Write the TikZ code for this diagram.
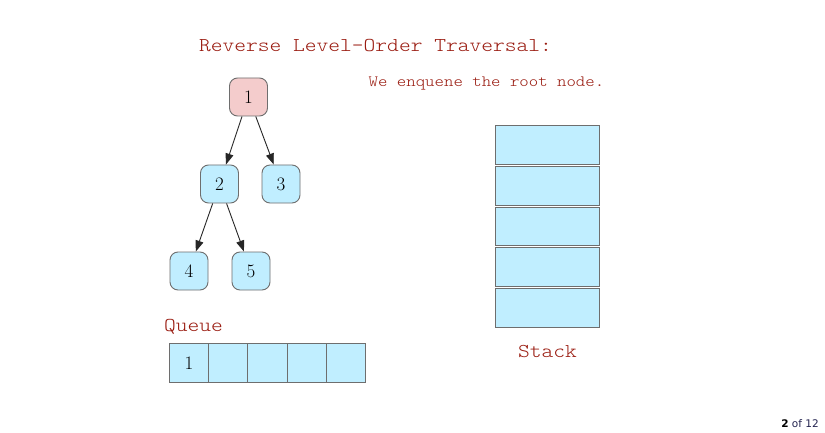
\documentclass[tikz,border=0pt]{standalone}
\usepackage{fontspec}
\newfontfamily\monofnt[FakeStretch=1.143]{lmmonolt10-regular.otf}
\newfontfamily\pgsans{DejaVu Sans}
\usetikzlibrary{arrows.meta}
\definecolor{cellblue}{HTML}{C0EEFF}
\definecolor{rootpink}{HTML}{F4CCCC}
\definecolor{bordergray}{HTML}{6E6E6E}
\definecolor{txtred}{HTML}{9A1B10}
\definecolor{pagenavy}{HTML}{23234F}
\tikzset{
  treenode/.style={draw=bordergray, line width=0.9pt, fill=cellblue, rounded corners=8pt,
    minimum width=38pt, minimum height=38pt, inner sep=0pt, font=\fontsize{19}{19}\selectfont},
  rootnode/.style={treenode, fill=rootpink},
  qcell/.style={draw=bordergray, line width=1pt, fill=cellblue, minimum width=39.2pt,
    minimum height=39pt, inner sep=0pt, font=\fontsize{19}{19}\selectfont},
  scell/.style={draw=bordergray, line width=1pt, fill=cellblue, minimum width=104pt,
    minimum height=38.6pt, inner sep=0pt},
  edge/.style={draw=black!85, line width=0.9pt, -{Triangle[length=11pt,width=8pt]}},
  bigtxt/.style={text=txtred, font=\monofnt\fontsize{19.6}{20}\selectfont, inner sep=0pt},
  smalltxt/.style={text=txtred, font=\monofnt\fontsize{15.7}{16}\selectfont, inner sep=0pt}
}
\begin{document}
\begin{tikzpicture}[x=1pt,y=-1pt]
\useasboundingbox[fill=white] (0,0) rectangle (825,433);
% title and caption
\node[bigtxt, anchor=base] (title) at (375.5,52) {Reverse Level-Order Traversal:};
\node[smalltxt, anchor=base] (caption) at (486.5,86.5) {We enquene the root node.};
% tree
\node[rootnode] (n1) at (248.5,97) {1};
\node[treenode] (n2) at (219.5,184) {2};
\node[treenode] (n3) at (281,184) {3};
\node[treenode] (n4) at (189,271) {4};
\node[treenode] (n5) at (251,271) {5};
\draw[edge] (n1) -- (n2);
\draw[edge] (n1) -- (n3);
\draw[edge] (n2) -- (n4);
\draw[edge] (n2) -- (n5);
% queue
\node[bigtxt, anchor=base west] (qlabel) at (164,331) {Queue};
\node[qcell] (q1) at (189.1,363) {1};
\node[qcell] (q2) at (228.3,363) {};
\node[qcell] (q3) at (267.5,363) {};
\node[qcell] (q4) at (306.7,363) {};
\node[qcell] (q5) at (345.9,363) {};
% stack
\node[scell] (s1) at (547.5,145.2) {};
\node[scell] (s2) at (547.5,185.9) {};
\node[scell] (s3) at (547.5,226.4) {};
\node[scell] (s4) at (547.5,267.2) {};
\node[scell] (s5) at (547.5,307.8) {};
\node[bigtxt, anchor=base] (slabel) at (547.5,357) {Stack};
% page number
\node[anchor=base east, inner sep=0pt, text=pagenavy, font=\pgsans\fontsize{10.5}{11}\selectfont] (page) at (819,427) {\textcolor{black}{\textbf{2}} of 12};
\end{tikzpicture}
\end{document}
